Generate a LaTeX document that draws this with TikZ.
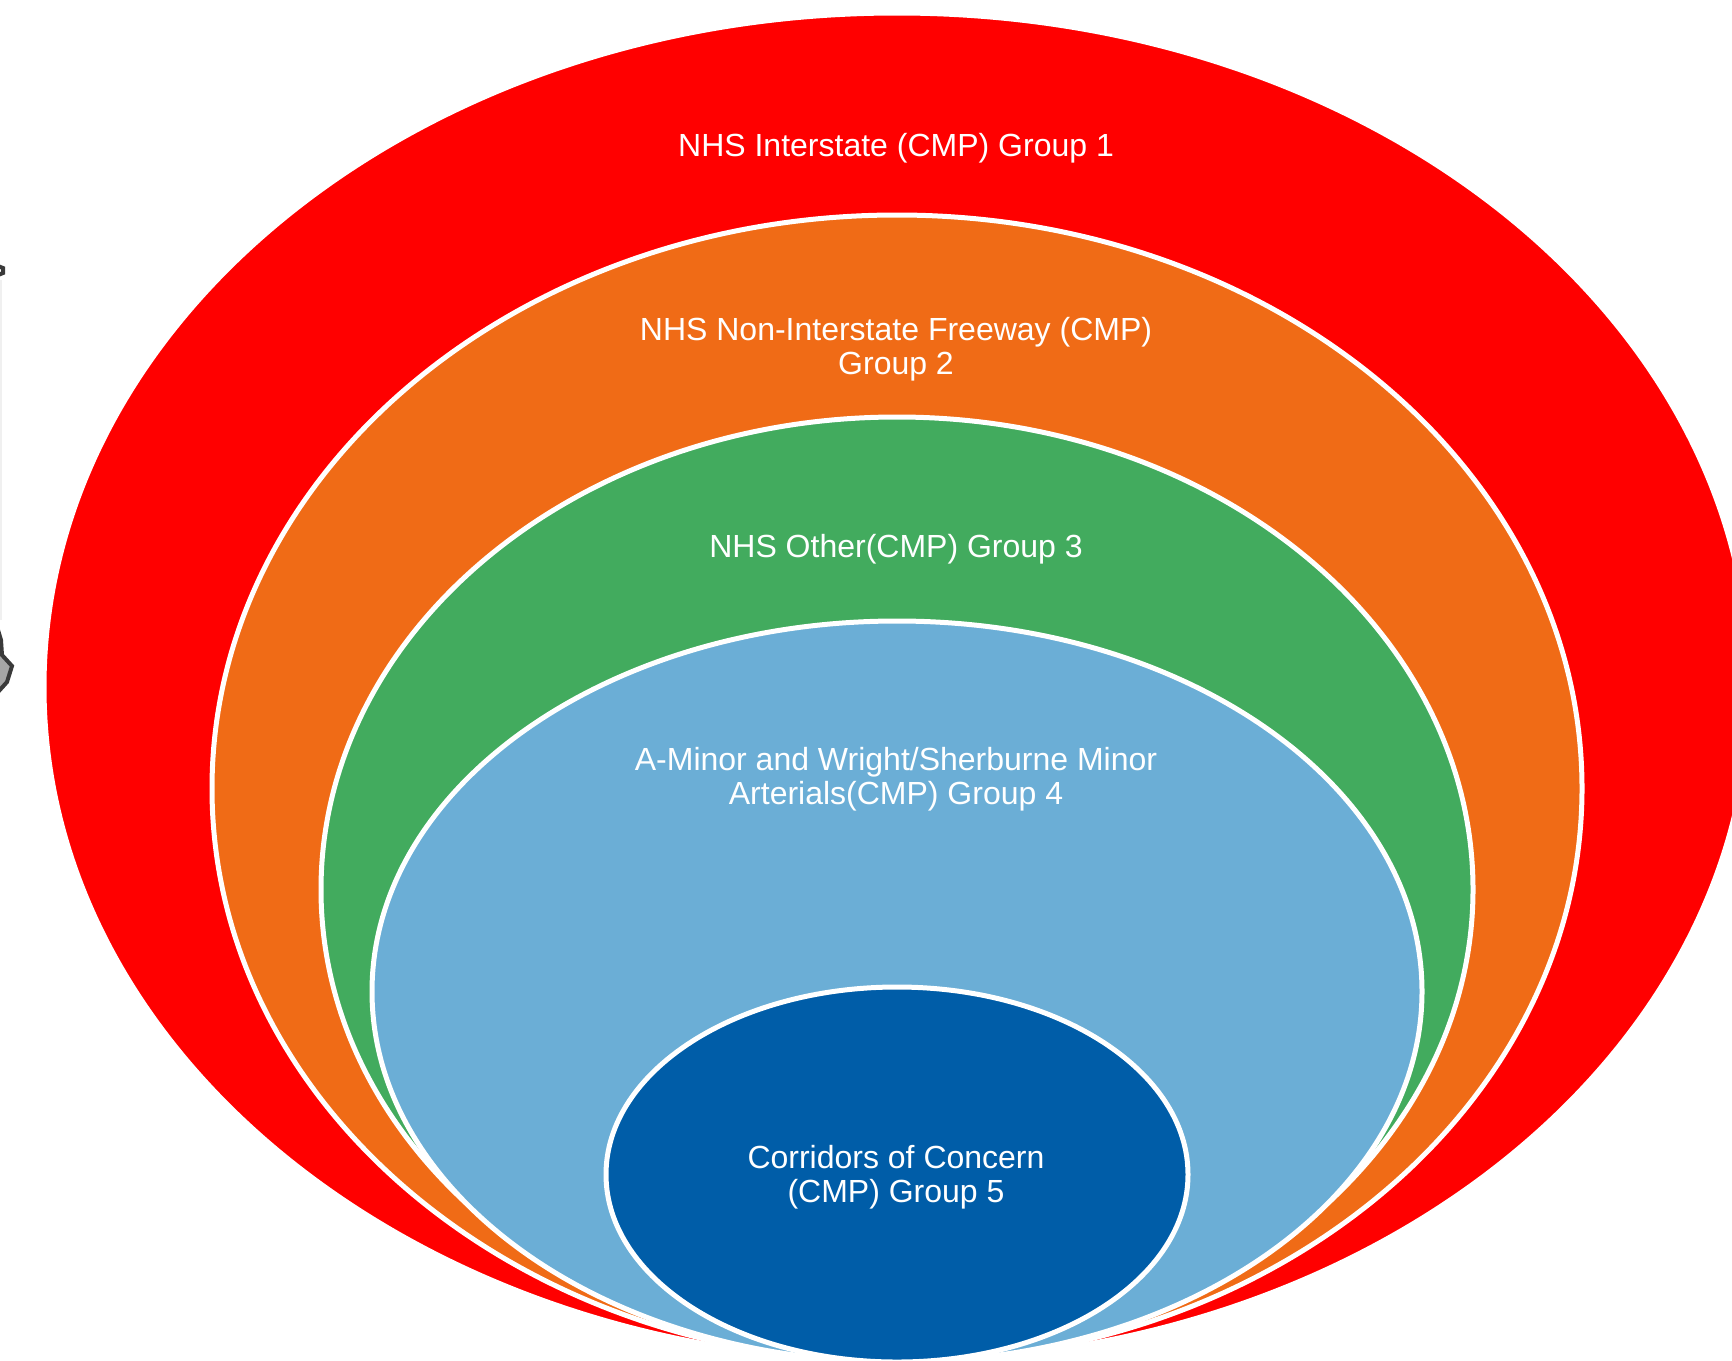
\documentclass[tikz,border=0pt]{standalone}
\usepackage{fontspec}
\setmainfont{Liberation Sans}
\usetikzlibrary{shapes.geometric}
\definecolor{cRed}{HTML}{FF0000}
\definecolor{cOrange}{HTML}{F06B16}
\definecolor{cGreen}{HTML}{42AB5E}
\definecolor{cLight}{HTML}{6BAED6}
\definecolor{cDark}{HTML}{005DA8}
\definecolor{cGrayEdge}{HTML}{3A3A3A}
\begin{document}
\begin{tikzpicture}[x=0.5pt,y=-0.5pt,
  ring/.style={ellipse, draw=white, line width=2.5pt, inner sep=0pt, outer sep=0pt},
  lbl/.style={text=white, align=center, inner sep=0pt, font=\fontsize{16pt}{17pt}\selectfont}]
\useasboundingbox (0,0) rectangle (1732,1360);
\clip (0,0) rectangle (1732,1360);
\fill[white] (0,0) rectangle (1732,1360);
% cropped fragment at left edge
\coordinate (fragTop) at (0,270);
\draw[cGrayEdge, line width=2pt] (-2,266) -- (3,268) -- (3,273) -- (-2,275);
\draw[gray!12, line width=0.8pt] (1,280) -- (1,620);
\draw[cGrayEdge, line width=2pt, fill=gray!70] (-2,630) -- (1,640) -- (2,655) -- (12,666) -- (7,682) -- (-2,692) -- cycle;
% rings
\node[ring, fill=cRed, minimum width=853pt, minimum height=674pt] (g1) at (897,687) {};
\node[ring, fill=cOrange, minimum width=685pt, minimum height=573.5pt] (g2) at (897,788.5) {};
\node[ring, fill=cGreen, minimum width=576pt, minimum height=472.5pt] (g3) at (897,889.5) {};
\node[ring, fill=cLight, minimum width=525pt, minimum height=370.5pt] (g4) at (897,991.5) {};
\node[ring, fill=cDark, minimum width=291pt, minimum height=187.5pt] (g5) at (897,1174.5) {};
% labels
\node[lbl] (t1) at (896,148) {NHS Interstate (CMP) Group 1};
\node[lbl] (t2) at (896,349) {NHS Non-Interstate Freeway (CMP)\\Group 2};
\node[lbl] (t3) at (896,549) {NHS Other(CMP) Group 3};
\node[lbl] (t4) at (896,779) {A-Minor and Wright/Sherburne Minor\\Arterials(CMP) Group 4};
\node[lbl] (t5) at (896,1177) {Corridors of Concern\\(CMP) Group 5};
\end{tikzpicture}
\end{document}
